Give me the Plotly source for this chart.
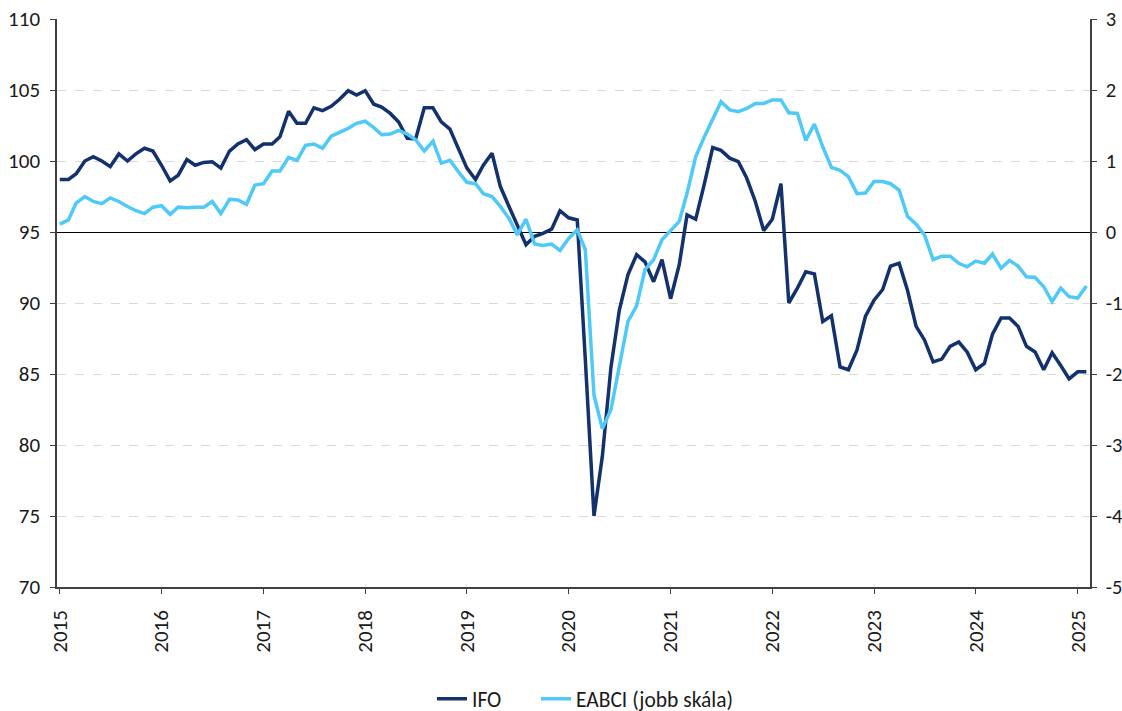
import pandas as pd
import plotly.graph_objects as go

dates = pd.date_range("2015-01-01", "2025-02-01", freq="MS")

ifo = [
    98.7, 98.7, 99.1, 100.0, 100.3, 100.0, 99.6, 100.5, 100.0, 100.5, 100.9, 100.7,
    99.7, 98.6, 99.0, 100.1, 99.7, 99.9, 99.95, 99.5, 100.7, 101.2, 101.5, 100.8,
    101.2, 101.2, 101.7, 103.5, 102.65, 102.65, 103.75, 103.55, 103.85, 104.35, 104.95, 104.65,
    104.95, 104.0, 103.8, 103.35, 102.75, 101.6, 101.55, 103.75, 103.75, 102.75, 102.25, 100.95,
    99.5, 98.7, 99.7, 100.55, 98.2, 96.8, 95.4, 94.1, 94.7, 94.9, 95.2, 96.5,
    96.0, 95.85, 86.0, 75.0, 79.2, 85.5, 89.5, 92.0, 93.4, 92.9, 91.5, 93.05,
    90.3, 92.7, 96.2, 95.9, 98.3, 100.95, 100.75, 100.2, 99.95, 98.8, 97.15, 95.1,
    95.9, 98.4, 90.0, 91.05, 92.2, 92.05, 88.7, 89.1, 85.5, 85.3, 86.7, 89.05,
    90.2, 90.95, 92.6, 92.8, 90.9, 88.35, 87.4, 85.85, 86.05, 86.95, 87.25, 86.55,
    85.3, 85.75, 87.8, 88.95, 88.95, 88.35, 86.95, 86.55, 85.3, 86.5, 85.6, 84.65,
    85.15, 85.15,
]

eabci = [
    0.11, 0.17, 0.41, 0.50, 0.43, 0.40, 0.48, 0.43, 0.36, 0.30, 0.26, 0.35,
    0.37, 0.25, 0.35, 0.34, 0.35, 0.35, 0.43, 0.26, 0.46, 0.45, 0.39, 0.66,
    0.68, 0.86, 0.86, 1.05, 1.01, 1.22, 1.24, 1.18, 1.35, 1.40, 1.46, 1.53,
    1.56, 1.47, 1.37, 1.38, 1.43, 1.38, 1.30, 1.14, 1.28, 0.97, 1.01, 0.85,
    0.70, 0.68, 0.54, 0.50, 0.36, 0.19, -0.04, 0.18, -0.17, -0.19, -0.17, -0.26,
    -0.09, 0.03, -0.25, -2.30, -2.77, -2.50, -1.90, -1.26, -1.04, -0.53, -0.39, -0.11,
    0.02, 0.15, 0.545, 1.06, 1.33, 1.58, 1.835, 1.72, 1.695, 1.74, 1.81, 1.81,
    1.86, 1.86, 1.68, 1.67, 1.29, 1.52, 1.20, 0.91, 0.87, 0.78, 0.54, 0.55,
    0.71, 0.71, 0.68, 0.59, 0.22, 0.11, -0.04, -0.39, -0.34, -0.34, -0.44, -0.49,
    -0.41, -0.44, -0.31, -0.51, -0.40, -0.48, -0.63, -0.64, -0.77, -0.98, -0.79, -0.91,
    -0.93, -0.76,
]

year_ticks = [f"{y}-01-01" for y in range(2015, 2026)]
year_labels = [str(y) for y in range(2015, 2026)]

right_ticks = [-5, -4, -3, -2, -1, 0, 1, 2, 3]
right_labels = ["-5", "-4", "-3", "-2", "-1", "0", "1", "2", "3"]

FONT = "Carlito, Lato, 'Liberation Sans', sans-serif"
AXIS_COLOR = "#404040"

fig = go.Figure()
fig.add_trace(go.Scatter(
    x=dates, y=ifo, name="IFO", mode="lines",
    line=dict(color="#13316c", width=3.5), yaxis="y", legend="legend",
))
fig.add_trace(go.Scatter(
    x=dates, y=eabci, name="EABCI (jobb skála)", mode="lines",
    line=dict(color="#4fc9f7", width=3.5), yaxis="y2", legend="legend2",
))

fig.update_layout(
    width=1122, height=711,
    margin=dict(l=57, r=32, t=19, b=124, autoexpand=False),
    paper_bgcolor="white", plot_bgcolor="white",
    font=dict(family=FONT, size=21, color="#1a1a1a"),
    showlegend=True,
    legend=dict(orientation="h", x=0.363, xanchor="left", y=-0.197, yanchor="middle",
                font=dict(size=21.5), bgcolor="rgba(0,0,0,0)"),
    legend2=dict(orientation="h", x=0.4637, xanchor="left", y=-0.197, yanchor="middle",
                 font=dict(size=21.5), bgcolor="rgba(0,0,0,0)"),
    xaxis=dict(
        type="date", range=["2014-12-22", "2025-02-14"], automargin=False,
        tickmode="array", tickvals=year_ticks, ticktext=year_labels,
        tickangle=-90, ticks="outside", ticklen=5, tickcolor=AXIS_COLOR,
        ticklabelstandoff=8,
        showline=True, linecolor=AXIS_COLOR, linewidth=1.5,
        showgrid=False, zeroline=False,
    ),
    yaxis=dict(
        range=[70, 110], dtick=5, tick0=70, automargin=False,
        ticks="outside", ticklen=5, tickcolor=AXIS_COLOR,
        ticklabelstandoff=6,
        showline=True, linecolor=AXIS_COLOR, linewidth=1.5,
        showgrid=True, gridcolor="#d9d9d9", griddash="dash", gridwidth=1,
        zeroline=False,
    ),
    yaxis2=dict(
        range=[-5, 3], tickmode="array", tickvals=right_ticks, ticktext=right_labels,
        overlaying="y", side="right", automargin=False,
        ticks="outside", ticklen=5, tickcolor=AXIS_COLOR,
        ticklabelstandoff=5, tickfont=dict(size=20.5),
        showline=True, linecolor=AXIS_COLOR, linewidth=1.5,
        showgrid=False, zeroline=True, zerolinecolor="black", zerolinewidth=1.2,
    ),
)

fig.write_html("out.html", config={"displayModeBar": False},
               post_script="document.body.style.margin='0px';")
